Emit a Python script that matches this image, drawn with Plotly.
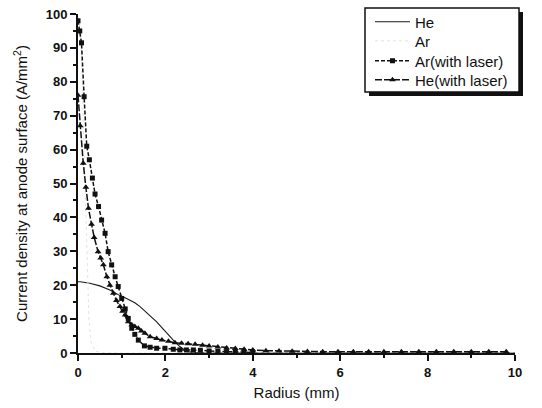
import plotly.graph_objects as go

# He (no laser)
he_x = [0.0, 0.05, 0.27, 0.5, 0.73, 0.95, 1.11, 1.3, 1.42, 1.6, 1.8, 1.92, 2.03, 2.18, 2.33, 2.49, 2.7, 3.0, 4.0, 6.0, 8.0, 10.0]
he_y = [21.0, 21.0, 20.6, 19.8, 18.6, 17.0, 16.1, 14.8, 13.7, 11.6, 9.2, 7.5, 5.8, 3.8, 1.9, 0.4, 0.1, 0.0, 0.0, 0.0, 0.0, 0.0]

# Ar (no laser)
ar_x = [0.0, 0.04, 0.07, 0.11, 0.15, 0.2, 0.25, 0.3, 0.4, 0.6, 1.0, 2.0, 4.0, 6.0, 8.0, 10.0]
ar_y = [99.0, 96.0, 91.0, 72.0, 50.0, 26.0, 10.0, 3.0, 0.5, 0.1, 0.0, 0.0, 0.0, 0.0, 0.0, 0.0]

# Ar (with laser)
arl_x = [0.0, 0.04, 0.08, 0.14, 0.2, 0.26, 0.33, 0.39, 0.47, 0.54, 0.62, 0.69, 0.77, 0.85, 0.92, 1.0, 1.08, 1.15, 1.23, 1.3,
         1.38, 1.52, 1.65, 1.8, 1.99, 2.18, 2.33, 2.48, 2.64, 2.8, 3.0, 3.2, 3.4, 3.6, 3.8, 4.0]
arl_y = [98.0, 95.0, 91.5, 75.6, 61.0, 57.0, 51.6, 46.9, 43.2, 39.2, 35.3, 29.9, 26.0, 22.5, 19.6, 16.1, 13.0, 10.2, 7.3, 5.5,
         3.8, 2.1, 1.7, 1.4, 1.4, 1.1, 0.9, 0.9, 0.9, 0.8, 0.6, 0.5, 0.4, 0.3, 0.2, 0.15]

# He (with laser)
hel_x = [0.0, 0.05, 0.12, 0.18, 0.24, 0.31, 0.37, 0.46, 0.52, 0.58, 0.66, 0.73, 0.81, 0.88, 0.96, 1.02, 1.08, 1.15, 1.23, 1.3,
         1.38, 1.45, 1.53, 1.65, 1.8, 1.92, 2.07, 2.22, 2.37, 2.52, 2.68, 2.85, 3.0, 3.2, 3.4, 3.6, 3.8, 4.0, 4.3, 4.6,
         4.9, 5.25, 5.6, 5.95, 6.3, 6.65, 7.0, 7.4, 7.8, 8.2, 8.6, 9.0, 9.4, 9.8]
hel_y = [76.0, 67.0, 56.0, 48.9, 42.7, 38.0, 34.1, 29.9, 28.0, 26.0, 22.5, 20.0, 17.6, 15.5, 13.7, 12.3, 11.2, 9.2, 8.3, 7.8,
         7.3, 6.5, 5.8, 4.8, 4.3, 3.8, 3.5, 3.0, 2.9, 2.7, 2.6, 2.3, 2.1, 1.8, 1.5, 1.3, 1.1, 0.9, 0.7, 0.6,
         0.5, 0.45, 0.4, 0.4, 0.4, 0.4, 0.4, 0.4, 0.4, 0.4, 0.4, 0.4, 0.4, 0.4]

L, R, T, B = 78, 515, 14, 353
W, H = R - L, B - T


def px(xp):
    return (xp - L) / W


def py(yp):
    return (B - yp) / H


fig = go.Figure()
fig.add_trace(go.Scatter(x=he_x, y=he_y, name="He", mode="lines", legend="legend",
                         line=dict(color="#1a1a1a", width=1.1)))
fig.add_trace(go.Scatter(x=ar_x, y=ar_y, name="Ar", mode="lines", legend="legend2",
                         line=dict(color="#e4e4e4", width=1, dash="dot")))
fig.add_trace(go.Scatter(x=arl_x, y=arl_y, name="Ar(with laser)", mode="lines+markers", legend="legend3",
                         line=dict(color="#111111", width=1.5, dash="4px,2px"),
                         marker=dict(symbol="square", size=5, color="#111111")))
fig.add_trace(go.Scatter(x=hel_x, y=hel_y, name="He(with laser)", mode="lines+markers", legend="legend4",
                         line=dict(color="#111111", width=1.5, dash="7px,2px"),
                         marker=dict(symbol="triangle-up", size=6, color="#111111")))

# legend drop shadow and box
fig.add_shape(type="rect", xref="paper", yref="paper",
              x0=px(369), x1=px(523), y0=py(96), y1=py(12),
              fillcolor="#111111", line=dict(width=0), layer="above")
fig.add_shape(type="rect", xref="paper", yref="paper",
              x0=px(365), x1=px(519), y0=py(92), y1=py(8),
              fillcolor="white", line=dict(width=1.5, color="#111111"), layer="above")

row_y = [22, 41, 61, 80]
leg_common = dict(x=px(370), xanchor="left", yanchor="middle",
                  bgcolor="rgba(0,0,0,0)", borderwidth=0,
                  font=dict(size=15, color="#111111"), itemwidth=35)

fig.update_layout(
    width=542, height=408,
    margin=dict(l=L, r=542 - R, t=T, b=408 - B, autoexpand=False),
    paper_bgcolor="white", plot_bgcolor="white",
    font=dict(family="Arial, Liberation Sans, sans-serif", color="#111111", size=13),
    showlegend=True,
    legend=dict(y=py(row_y[0]), **leg_common),
    legend2=dict(y=py(row_y[1]), **leg_common),
    legend3=dict(y=py(row_y[2]), **leg_common),
    legend4=dict(y=py(row_y[3]), **leg_common),
    xaxis=dict(range=[0, 10], dtick=2, tick0=0, showgrid=False, zeroline=False, automargin=False,
               showline=True, linecolor="#111111", linewidth=2,
               ticks="outside", ticklen=6, tickwidth=1.5, tickcolor="#111111",
               minor=dict(dtick=1, ticks="outside", ticklen=3, tickwidth=1.5, tickcolor="#111111"),
               tickfont=dict(size=13, weight="bold"),
               title=dict(text="Radius (mm)", font=dict(size=15), standoff=9)),
    yaxis=dict(range=[0, 100], dtick=10, tick0=0, showgrid=False, zeroline=False, automargin=False,
               showline=True, linecolor="#111111", linewidth=2,
               ticks="outside", ticklen=6, tickwidth=1.5, tickcolor="#111111",
               minor=dict(dtick=5, ticks="outside", ticklen=3, tickwidth=1.5, tickcolor="#111111"),
               tickfont=dict(size=13, weight="bold"),
               title=dict(text="Current density at anode surface (A/mm<sup>2</sup>)", font=dict(size=15), standoff=14)),
)

fig.write_html("out.html")
